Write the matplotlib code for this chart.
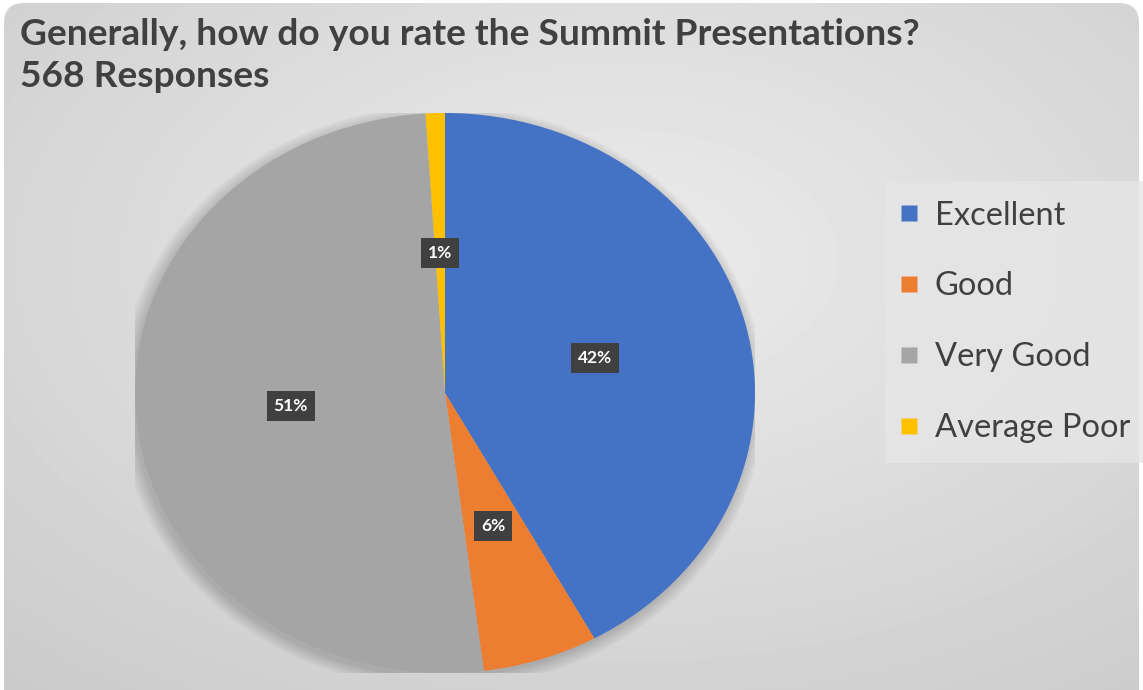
import numpy as np
import matplotlib.pyplot as plt
from matplotlib.patches import FancyBboxPatch, Ellipse
from matplotlib.lines import Line2D

categories = ["Excellent", "Good", "Very Good", "Average Poor"]
shares = [42, 6, 51, 1]
colors = ["#4472C4", "#ED7D31", "#A5A5A5", "#FFC000"]
title = "Generally, how do you rate the Summit Presentations?\n568 Responses"

W, H = 1143, 690
fig = plt.figure(figsize=(W / 100, H / 100), dpi=100)
fig.patch.set_facecolor("white")

# gray card with a soft radial gradient, rounded corners
bg = fig.add_axes([0, 0, 1, 1], zorder=0)
bg.set_axis_off()
yy, xx = np.mgrid[0:H, 0:W]
d = np.sqrt(((xx - 620) / W) ** 2 + ((yy - 260) / H) ** 2)
shade = 0.925 - 0.16 * d
img = bg.imshow(shade, cmap="gray", vmin=0, vmax=1, extent=[0, W, H, 0],
                aspect="auto", interpolation="bilinear")
bg.set_xlim(0, W)
bg.set_ylim(H, 0)
card = FancyBboxPatch((4, 3), W - 8, H + 30,
                      boxstyle="round,pad=0,rounding_size=20",
                      transform=bg.transData, facecolor="none", edgecolor="none")
bg.add_patch(card)
img.set_clip_path(card)

# pie, stretched a little wider than tall
ax = fig.add_axes([135 / W, 17 / H, 620 / W, 560 / H], zorder=2)
for i in range(8):
    ax.add_patch(Ellipse((-0.01, -0.015), 2.0 + 0.012 * i, 2.0 + 0.012 * i,
                         facecolor="black", alpha=0.025, edgecolor="none", zorder=0))
wedges, texts, autotexts = ax.pie(shares, colors=colors, startangle=90,
                                  counterclock=False, autopct="%.0f%%",
                                  pctdistance=0.5, radius=1,
                                  wedgeprops=dict(linewidth=0))
ax.set_aspect("auto")
ax.set_xlim(-1, 1)
ax.set_ylim(-1, 1)
ax.set_axis_off()

for t in autotexts:
    t.set(color="white", fontweight="bold", fontsize=12.5, family="Lato")
    t.set_bbox(dict(boxstyle="square,pad=0.4", facecolor="#404040",
                    edgecolor="none"))

fig.text(20 / W, 1 - 18 / H, title, va="top", ha="left", fontsize=26.7,
         fontweight="bold", family="Lato", color="#404040", linespacing=1.33)

handles = [Line2D([], [], linestyle="none", marker="s", markersize=11,
                  markerfacecolor=c, markeredgecolor="none") for c in colors]
leg = fig.legend(handles, categories, loc="upper left",
                 bbox_to_anchor=(885 / W, 1 - 181 / H), frameon=True,
                 fancybox=False, labelspacing=1.25,
                 handlelength=0.3, handletextpad=0.63, borderpad=0.6,
                 borderaxespad=0, prop=dict(family="Lato", size=23.5))
leg.get_frame().set_facecolor("#e6e6e6")
leg.get_frame().set_edgecolor("none")
for t in leg.get_texts():
    t.set_color("#404040")

fig.savefig("out.png", dpi=100)
